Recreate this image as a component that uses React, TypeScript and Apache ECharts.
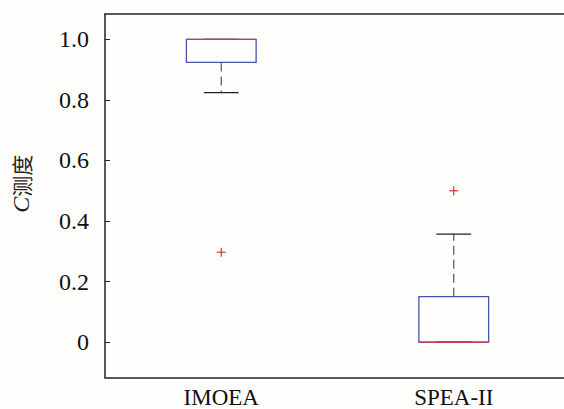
import React, { useEffect, useRef } from "react";
import * as echarts from "echarts";

const categories = ["IMOEA", "SPEA-II"];
const lowerWhisker = [0.824, 0];
const q1 = [0.924, 0];
const median = [1.0, 0];
const q3 = [1.0, 0.15];
const upperWhisker = [1.0, 0.357];
const outliers: [number, number][] = [
  [0, 0.297],
  [1, 0.5],
];
const yTicks = [0, 0.2, 0.4, 0.6, 0.8, 1.0];

const SERIF = '"Liberation Serif", "Times New Roman", serif';
const BOX_BLUE = "#4455aa";
const MED_RED = "#e23232";
const WHISK = "#555555";
const CAP = "#222222";

export default function App() {
  const ref = useRef<HTMLDivElement>(null);
  useEffect(() => {
    if (!ref.current) return;
    const chart = echarts.init(ref.current, null, { renderer: "svg" });
    const boxData = categories.map((_, i) => [
      i,
      lowerWhisker[i],
      q1[i],
      median[i],
      q3[i],
      upperWhisker[i],
    ]);
    const option: any = {
      animation: false,
      backgroundColor: "#fefefc",
      grid: {
        left: 105,
        top: 14,
        width: 465,
        height: 363.5,
        show: false,
        containLabel: false,
        outerBoundsMode: "none",
      },
      xAxis: [
        {
          type: "category",
          data: categories,
          position: "bottom",
          axisLine: { onZero: false, lineStyle: { color: "#222", width: 1.5 } },
          axisTick: { inside: true, length: 5, alignWithLabel: true, lineStyle: { color: "#222" } },
          axisLabel: { fontFamily: SERIF, fontSize: 23, color: "#111", margin: 8 },
          splitLine: { show: false },
        },
        {
          type: "category",
          data: categories,
          position: "top",
          axisLine: { onZero: false, lineStyle: { color: "#222", width: 1.5 } },
          axisTick: { inside: true, length: 5, alignWithLabel: true, lineStyle: { color: "#222" } },
          axisLabel: { show: false },
          splitLine: { show: false },
        },
      ],
      yAxis: {
        type: "value",
        min: -0.117,
        max: 1.084,
        axisLine: { show: true, onZero: false, lineStyle: { color: "#222", width: 1.5 } },
        axisTick: { show: true, inside: true, length: 5, customValues: yTicks, lineStyle: { color: "#222" } },
        axisLabel: {
          customValues: yTicks,
          fontFamily: SERIF,
          fontSize: 24,
          color: "#111",
          margin: 16,
          formatter: (v: number) => (Math.abs(v) < 1e-9 ? "0" : v.toFixed(1)),
        },
        splitLine: { show: false },
        name: "{i|C}{c|测度}",
        nameLocation: "middle",
        nameGap: 72,
        nameTextStyle: {
          padding: [0, 0, 0, 24],
          rich: {
            i: { fontFamily: SERIF, fontStyle: "italic", fontSize: 24, color: "#222" },
            c: { fontFamily: '"Noto Sans CJK SC", sans-serif', fontSize: 21, color: "#222" },
          },
        },
      },
      series: [
        {
          type: "custom",
          xAxisIndex: 0,
          data: boxData,
          encode: { x: 0, y: [1, 2, 3, 4, 5] },
          renderItem: (params: any, api: any) => {
            const idx = api.value(0);
            const band = api.size([1, 0])[0];
            const half = band * 0.15;
            const capHalf = band * 0.075;
            const pLw = api.coord([idx, api.value(1)]);
            const pQ1 = api.coord([idx, api.value(2)]);
            const pMed = api.coord([idx, api.value(3)]);
            const pQ3 = api.coord([idx, api.value(4)]);
            const pUw = api.coord([idx, api.value(5)]);
            const cx = pQ1[0];
            const children: any[] = [];
            const dash = { stroke: WHISK, lineWidth: 1.2, lineDash: [9, 5], fill: null };
            if (pLw[1] - pQ1[1] > 0.5) {
              children.push({ type: "line", shape: { x1: cx, y1: pQ1[1], x2: cx, y2: pLw[1] }, style: dash });
            }
            if (pQ3[1] - pUw[1] > 0.5) {
              children.push({ type: "line", shape: { x1: cx, y1: pQ3[1], x2: cx, y2: pUw[1] }, style: dash });
            }
            children.push({
              type: "line",
              shape: { x1: cx - capHalf, y1: pLw[1], x2: cx + capHalf, y2: pLw[1] },
              style: { stroke: CAP, lineWidth: 1.3 },
            });
            children.push({
              type: "line",
              shape: { x1: cx - capHalf, y1: pUw[1], x2: cx + capHalf, y2: pUw[1] },
              style: { stroke: CAP, lineWidth: 1.3 },
            });
            children.push({
              type: "rect",
              shape: { x: cx - half, y: pQ3[1], width: half * 2, height: pQ1[1] - pQ3[1] },
              style: { fill: "none", stroke: BOX_BLUE, lineWidth: 1.3 },
            });
            children.push({
              type: "line",
              shape: { x1: cx - half, y1: pMed[1], x2: cx + half, y2: pMed[1] },
              style: { stroke: MED_RED, lineWidth: 1.4 },
            });
            return { type: "group", children };
          },
        },
        {
          type: "custom",
          xAxisIndex: 0,
          data: outliers,
          encode: { x: 0, y: 1 },
          renderItem: (params: any, api: any) => {
            const p = api.coord([api.value(0), api.value(1)]);
            const s = 4.5;
            return {
              type: "group",
              children: [
                { type: "line", shape: { x1: p[0] - s, y1: p[1], x2: p[0] + s, y2: p[1] }, style: { stroke: MED_RED, lineWidth: 1.2 } },
                { type: "line", shape: { x1: p[0], y1: p[1] - s, x2: p[0], y2: p[1] + s }, style: { stroke: MED_RED, lineWidth: 1.2 } },
              ],
            };
          },
        },
      ],
    };
    chart.setOption(option);
    return () => chart.dispose();
  }, []);
  return (
    <div
      ref={ref}
      style={{ position: "fixed", left: 0, top: 0, width: 564, height: 409 }}
    />
  );
}
